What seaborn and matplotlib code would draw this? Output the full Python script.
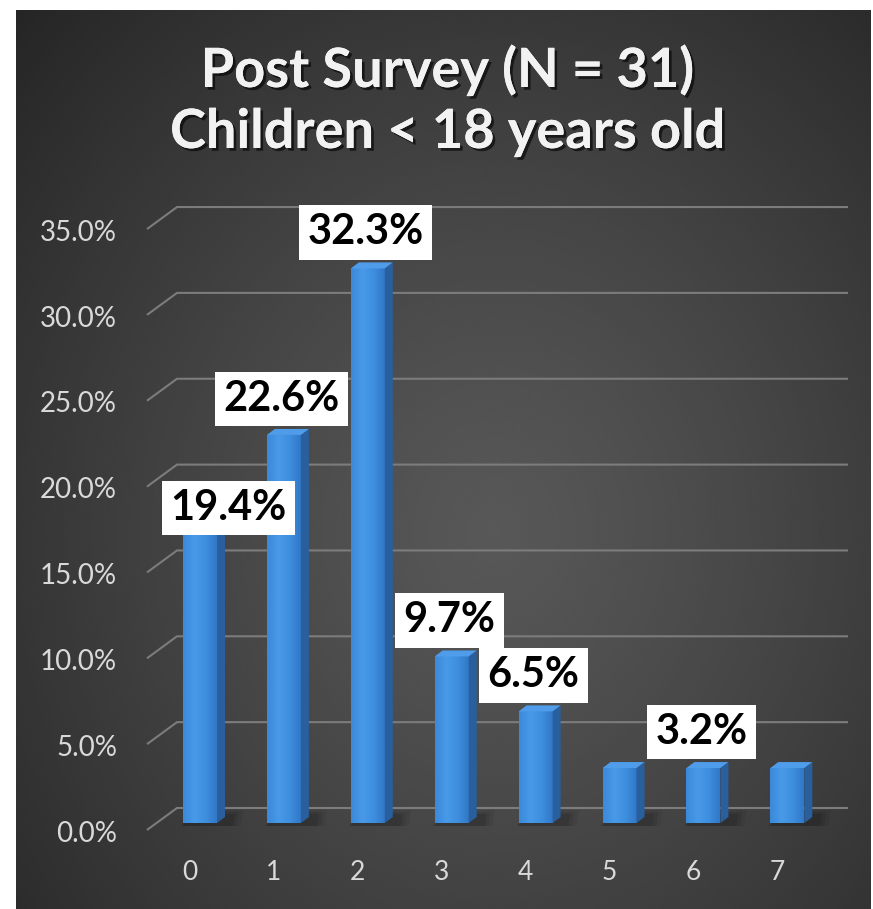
import numpy as np
import pandas as pd
import matplotlib
matplotlib.use("Agg")
import matplotlib.pyplot as plt
import seaborn as sns
from matplotlib.patches import Polygon
from matplotlib import patheffects as pe
from matplotlib.colors import LinearSegmentedColormap

# ---- data -------------------------------------------------------------
children = ["0", "1", "2", "3", "4", "5", "6", "7"]
share = [19.4, 22.6, 32.3, 9.7, 6.5, 3.2, 3.2, 3.2]
labelled = [0, 1, 2, 3, 4, 6]
y_ticks = [0, 5, 10, 15, 20, 25, 30, 35]
title_lines = ["Post Survey (N = 31)", "Children < 18 years old"]

# ---- figure setup ------------------------------------------------------
W, H, DPI = 873, 909, 100
sns.set_theme(style="dark")
plt.rcParams["font.family"] = ["Lato", "DejaVu Sans"]

fig = plt.figure(figsize=(W / DPI, H / DPI), dpi=DPI, facecolor="white")

# dark radial backdrop
bg = fig.add_axes([16 / W, 0, (W - 2 - 16) / W, (H - 10) / H])
bg.set_axis_off()
ny, nx = 450, 430
yy, xx = np.mgrid[0:1:ny * 1j, 0:1:nx * 1j]
r = np.sqrt(((xx - 0.56) / 0.78) ** 2 + ((yy - 0.58) / 0.85) ** 2)
shade = 0.345 - 0.20 * np.clip(r, 0, 1) ** 1.2
bg.imshow(shade, cmap="gray", vmin=0, vmax=1, aspect="auto",
          extent=[0, 1, 0, 1], origin="upper", interpolation="bicubic")
bg.set_xlim(0, 1)
bg.set_ylim(0, 1)

# plotting area, geometry in pixels
ax_left, ax_right, ax_top, ax_bottom = 147, 848, 190, 840
ax = fig.add_axes([ax_left / W, (H - ax_bottom) / H,
                   (ax_right - ax_left) / W, (ax_bottom - ax_top) / H])
ax.patch.set_alpha(0)

x0_px, step_px = 200.0, 83.9        # first category centre and spacing
base_px, unit_px = 823.0, 17.17     # zero level of the bar fronts, px per %
PX = 1 / step_px                     # one pixel in category units
PY = 1 / unit_px                     # one pixel in percent units

df = pd.DataFrame({"children": children, "share": share})
sns.barplot(data=df, x="children", y="share", color="#3d8ddd",
            width=34 * PX, saturation=1, errorbar=None, ax=ax, zorder=3,
            linewidth=0, edgecolor="none")

xlim = ((ax_left - x0_px) * PX, (ax_right - x0_px) * PX)
ylim = ((base_px - ax_bottom) * PY, (base_px - ax_top) * PY)
ax.set_xlim(*xlim)
ax.set_ylim(*ylim)
ax.axis("off")

# perspective gridlines: a short floor-side slant plus the back wall line
wall_x = (177 - x0_px) * PX
for v in y_ticks:
    ax.plot([xlim[0], wall_x, xlim[1]],
            [v - 7 * PY, v + 15 * PY, v + 15 * PY],
            color="#7c7c7c", lw=1.5, zorder=1, clip_on=False,
            solid_joinstyle="miter", solid_capstyle="butt")

# give each bar a lit front, a top and a shaded side
dx, dy = 8 * PX, 6 * PY
front_cmap = LinearSegmentedColormap.from_list(
    "front", ["#3b89da", "#4899e8", "#3f8fe0", "#3178c6"])
grad = np.linspace(0, 1, 64)[None, :]
for patch in list(ax.patches):
    x, w, h = patch.get_x(), patch.get_width(), patch.get_height()
    # soft floor shadow
    for k, a in enumerate([0.10, 0.08, 0.06]):
        ax.add_patch(Polygon([(x - (2 - k) * PX, -3 * PY), (x + w + dx + (8 + 4 * k) * PX, -3 * PY),
                              (x + w + dx + (10 + 4 * k) * PX, (9 + 2 * k) * PY),
                              (x + dx, (9 + 2 * k) * PY)],
                             closed=True, fc="black", ec="none", alpha=a, zorder=2))
    im = ax.imshow(grad, cmap=front_cmap, aspect="auto",
                   extent=[x, x + w, 0, h], zorder=3.5, interpolation="bicubic")
    im.set_clip_path(patch)
    ax.add_patch(Polygon([(x + w, 0), (x + w + dx, dy), (x + w + dx, h + dy), (x + w, h)],
                         closed=True, fc="#2a5f9e", ec="none", zorder=4))
    ax.add_patch(Polygon([(x, h), (x + w, h), (x + w + dx, h + dy), (x + dx, h + dy)],
                         closed=True, fc="#4f9ceb", ec="none", zorder=4))
ax.set_xlim(*xlim)
ax.set_ylim(*ylim)

# value labels in white boxes
label_nudge = {0: (28.5, -30.0)}    # px; the first label sits over its bar
for i in labelled:
    v = share[i]
    nx_px, ny_px = label_nudge.get(i, (-2.0, 24.0))
    ax.text(i + nx_px * PX, v + ny_px * PY, f"{v:.1f}%",
            ha="center", va="baseline", fontsize=30, fontweight="bold",
            color="black", zorder=6, clip_on=False,
            bbox=dict(boxstyle="square,pad=0.2", fc="white", ec="none"))

# axis labels
for v in y_ticks:
    ax.text((117 - x0_px) * PX, v - 18.7 * PY, f"{v:.1f}%", ha="right",
            va="baseline", fontsize=20, color="#d9d9d9", clip_on=False)
for i, c in enumerate(children):
    ax.text(i - 10.5 * PX, (base_px - 880) * PY, c, ha="center",
            va="baseline", fontsize=19, color="#d9d9d9", clip_on=False)

# title
shadow = [pe.withSimplePatchShadow(offset=(2, -2), shadow_rgbFace="black", alpha=0.6),
          pe.Normal()]
for line, base in zip(title_lines, [87, 148]):
    fig.text(447 / W, 1 - base / H, line, ha="center", va="baseline",
             fontsize=39, fontweight="bold", color="#f2f2f2", path_effects=shadow)

fig.savefig("out.png", dpi=DPI, facecolor="white")
